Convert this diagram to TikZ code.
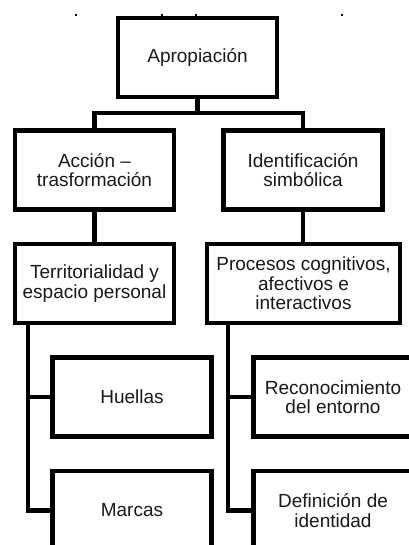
\documentclass[tikz,border=0pt]{standalone}
\usepackage{fontspec}
\setmainfont{Liberation Sans}
\begin{document}
\begin{tikzpicture}[x=1pt,y=-1pt,
  box/.style={draw=black,line width=4.2pt,fill=white,minimum width=159pt,minimum height=79pt,
    inner sep=0pt,align=center,font=\fontsize{19}{19.3}\selectfont,text=black!90},
  conn/.style={draw=black,line width=4.2pt,line join=miter},
  speck/.style={fill=black,inner sep=0pt,minimum size=1.6pt}]
\useasboundingbox (0,0) rectangle (408,545);
% tiny marks at top
\node[speck] (s1) at (76,15) {};
\node[speck] (s2) at (162,15) {};
\node[speck] (s3) at (196,15) {};
\node[speck] (s4) at (342,15) {};
% nodes
\node[box] (A) at (197.5,57.5) {Apropiación};
\node[box] (B) at (94.5,170) {Acción –\\trasformación};
\node[box] (C) at (303,170) {Identificación\\simbólica};
\node[box] (D) at (94.5,283.5) {Territorialidad y\\espacio personal};
\node[box,minimum width=193pt] (E) at (303.5,283.5) {Procesos cognitivos,\\afectivos e\\interactivos};
\node[box] (F) at (132,397) {Huellas};
\node[box] (G) at (132,510.5) {Marcas};
\node[box] (H) at (333,397) {Reconocimiento\\del entorno};
\node[box] (I) at (333,510.5) {Definición de\\identidad};
% connectors
\coordinate (j1) at (197.5,113);
\draw[conn] (A.south) -- (j1);
\draw[conn] (B.north) |- (j1) -| (C.north);
\draw[conn] (B.south) -- (D.north);
\draw[conn] (C.south) -- (C.south |- E.north);
\coordinate (dl) at (28,323.5);
\draw[conn] (dl) |- (F.west);
\draw[conn] (dl) |- (G.west);
\coordinate (el) at (228,323.5);
\draw[conn] (el) |- (H.west);
\draw[conn] (el) |- (I.west);
\end{tikzpicture}
\end{document}
